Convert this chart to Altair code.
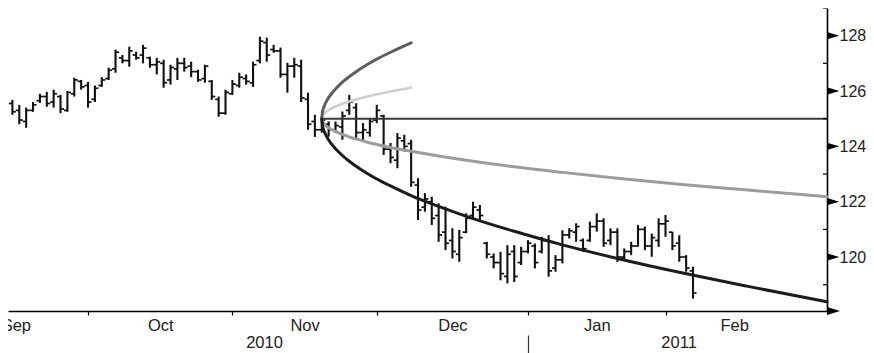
import altair as alt
import pandas as pd

# ---------------- data ----------------
# trading-day index: 0 = first trading day of October 2010
day = list(range(-11, 89))
high = [125.68, 125.50, 125.40, 125.60, 125.90, 125.97, 126.05, 125.86, 126.00, 126.48,
        126.40, 126.33, 126.20, 126.50, 126.84, 127.50, 127.30, 127.60, 127.42, 127.67,
        127.24, 127.20, 127.13, 126.95, 127.20, 127.20, 127.06, 126.77, 126.95, 126.40,
        125.80, 126.05, 126.40, 126.66, 126.60, 127.06, 127.96, 127.93, 127.67, 127.57,
        127.02, 127.20, 127.13, 125.94, 125.14, 125.10, 124.90, 124.90, 125.26, 125.86,
        125.56, 124.84, 125.02, 125.50, 125.14, 124.12, 124.48, 124.42, 124.24, 122.85,
        122.31, 122.18, 121.94, 121.82, 121.04, 120.98, 121.58, 122.00, 121.88, 120.55,
        120.13, 120.19, 120.43, 120.43, 120.37, 120.61, 120.49, 120.73, 120.79, 120.07,
        120.97, 121.04, 121.22, 120.67, 121.28, 121.58, 121.40, 121.04, 121.04, 120.31,
        120.55, 121.16, 121.10, 120.85, 121.40, 121.52, 120.91, 120.79, 120.07, 119.65]
low = [125.14, 124.80, 124.67, 125.25, 125.57, 125.43, 125.40, 125.20, 125.25, 125.80,
       126.05, 125.40, 125.60, 126.15, 126.40, 126.66, 127.00, 126.88, 127.13, 127.00,
       126.84, 126.60, 126.12, 126.23, 126.40, 126.70, 126.50, 126.33, 126.30, 125.68,
       125.07, 125.14, 125.86, 126.12, 126.23, 126.15, 127.00, 127.06, 127.38, 126.48,
       125.94, 126.48, 125.60, 124.60, 124.34, 124.50, 124.35, 124.48, 124.24, 125.14,
       124.24, 124.17, 124.35, 124.84, 123.69, 123.39, 123.21, 123.81, 122.54, 121.34,
       121.64, 121.16, 120.55, 120.25, 119.95, 119.83, 120.86, 121.40, 121.28, 119.95,
       119.59, 119.16, 119.05, 119.10, 119.71, 120.13, 119.59, 120.13, 119.29, 119.47,
       119.77, 120.67, 120.55, 120.19, 120.55, 120.92, 120.37, 120.43, 119.83, 119.89,
       120.07, 120.37, 120.25, 120.01, 120.37, 120.73, 120.25, 119.83, 119.47, 118.50]
open_ = [125.55, 125.30, 124.90, 125.30, 125.65, 125.80, 125.60, 125.80, 125.30, 125.90,
         126.35, 126.20, 125.70, 126.20, 126.45, 126.80, 127.20, 127.10, 127.30, 127.30,
         127.20, 126.95, 127.00, 126.40, 126.80, 127.00, 126.90, 126.70, 126.45, 126.35,
         125.70, 125.20, 125.90, 126.20, 126.45, 126.30, 127.10, 127.75, 127.50, 127.45,
         126.60, 126.90, 126.90, 125.70, 124.90, 124.60, 124.80, 124.60, 124.70, 125.30,
         125.40, 124.50, 124.50, 124.95, 125.10, 123.90, 123.50, 124.20, 124.10, 122.60,
         121.80, 122.00, 121.50, 120.90, 120.60, 120.10, 120.90, 121.50, 121.70, 120.50,
         120.00, 119.80, 119.30, 120.20, 119.80, 120.20, 120.40, 120.20, 120.60, 119.60,
         119.90, 120.80, 120.90, 120.60, 120.60, 121.10, 121.30, 120.60, 120.90, 120.00,
         120.20, 120.40, 121.00, 120.40, 120.60, 121.20, 120.90, 120.50, 120.00, 119.50]
close = [125.25, 124.95, 125.30, 125.50, 125.80, 125.55, 125.90, 125.35, 125.95, 126.40,
         126.15, 125.60, 126.10, 126.40, 126.75, 127.40, 127.10, 127.45, 127.20, 127.55,
         126.95, 127.05, 126.30, 126.85, 127.00, 126.85, 126.70, 126.40, 126.90, 125.80,
         125.20, 125.95, 126.25, 126.50, 126.35, 126.95, 127.80, 127.30, 127.45, 126.60,
         126.90, 126.95, 125.75, 124.80, 124.60, 124.95, 124.60, 124.75, 125.10, 125.60,
         124.50, 124.60, 124.90, 125.30, 123.90, 123.60, 124.30, 124.00, 122.70, 121.70,
         122.10, 121.40, 120.80, 120.50, 120.20, 120.70, 121.40, 121.80, 121.50, 120.10,
         119.80, 119.40, 120.10, 119.30, 120.20, 120.50, 119.80, 120.60, 119.50, 119.90,
         120.80, 120.95, 121.10, 120.30, 121.10, 121.30, 120.50, 120.90, 120.00, 120.20,
         120.40, 121.00, 120.40, 120.70, 121.20, 121.30, 120.40, 120.00, 119.60, 118.70]

# month boundaries (first trading day index of each month)
month_names = ["Sep", "Oct", "Nov", "Dec", "Jan", "Feb"]
month_start = [-21, 0, 21, 42, 64, 84]
month_end = [0, 21, 42, 64, 84, 104]
year_names = ["2010", "2011"]
year_center = [25.6, 85.9]
year_break = [64]

# projection cone (start at day 34, price 125)
cone_start = 34
cone_level = 125.0
up_day = [34, 34.1, 34.25, 34.5, 35, 35.5, 36, 37, 38, 39, 40.5, 42, 44, 47]
up_dark = [125.00, 125.24, 125.38, 125.54, 125.76, 125.93, 126.07, 126.32, 126.52,
           126.70, 126.94, 127.15, 127.40, 127.74]
up_light = [125.00, 125.10, 125.16, 125.22, 125.31, 125.38, 125.44, 125.54, 125.62,
            125.69, 125.79, 125.88, 125.98, 126.12]
low_day = [34, 34.1, 34.25, 34.5, 35, 35.5, 36, 37, 38, 39, 40.5, 42, 44, 47, 51, 56,
           62, 69, 77, 86, 96, 107.5]
low_black = [125.00, 124.76, 124.61, 124.46, 124.23, 124.06, 123.91, 123.67, 123.46,
             123.28, 123.04, 122.82, 122.57, 122.22, 121.83, 121.39, 120.93, 120.44,
             119.95, 119.45, 118.94, 118.38]
low_gray = [125.00, 124.90, 124.84, 124.77, 124.67, 124.60, 124.54, 124.43, 124.34,
            124.27, 124.16, 124.07, 123.96, 123.82, 123.65, 123.46, 123.26, 123.06,
            122.85, 122.63, 122.42, 122.18]

price_major = [120, 122, 124, 126, 128]
price_minor = [119, 121, 123, 125, 127, 129]

X_MIN, X_MAX = -11.64, 107.49
Y_MIN, Y_MAX = 118.05, 129.0

# ---------------- chart ----------------
FONT = "Liberation Sans"
FONT_SIZE = 16.5
LABEL_COLOR = "#222222"

bars = pd.DataFrame({"day": day, "high": high, "low": low, "open": open_, "close": close})
xscale = alt.Scale(domain=[X_MIN, X_MAX], nice=False, zero=False)
yscale = alt.Scale(domain=[Y_MIN, Y_MAX], nice=False, zero=False)

month_center = [(a + b) / 2 for a, b in zip(month_start, month_end)]


def lookup_expr(values, names):
    expr = "''"
    for v, n in reversed(list(zip(values, names))):
        expr = f"datum.value == {v} ? '{n}' : " + expr
    return expr


main_x_axis = alt.Axis(orient="bottom", values=month_start[1:], labels=False, ticks=True,
                       tickSize=4, tickColor="#000", tickWidth=1.2, domain=True,
                       domainColor="#000", domainWidth=1.6, grid=False, title=None)
month_axis = alt.Axis(orient="bottom", values=month_center,
                      labelExpr=lookup_expr(month_center, month_names), ticks=False,
                      domain=False, grid=False, labelPadding=6, labelFlush=False,
                      labelOverlap=False, labelBound=False, labelFont=FONT,
                      labelFontSize=FONT_SIZE, labelColor=LABEL_COLOR, title=None)
year_axis = alt.Axis(orient="bottom", values=year_center,
                     labelExpr=lookup_expr(year_center, year_names), ticks=False,
                     domain=False, grid=False, labelPadding=23, labelFlush=False,
                     labelOverlap=False, labelBound=False, labelFont=FONT,
                     labelFontSize=FONT_SIZE, labelColor=LABEL_COLOR, title=None)
year_break_axis = alt.Axis(orient="bottom", values=year_break, labels=False, ticks=True,
                           tickSize=20, tickColor="#333", tickWidth=1.2, offset=24,
                           domain=False, grid=False, title=None)
right_axis = alt.Axis(orient="right", values=price_major, ticks=False, labelPadding=12,
                      domain=True, domainColor="#000", domainWidth=1.6, grid=False,
                      labelFont=FONT, labelFontSize=16, labelColor=LABEL_COLOR,
                      title=None)

hl = alt.Chart(bars).mark_rule(color="#111", strokeWidth=2.1).encode(
    x=alt.X("day:Q", scale=xscale, axis=main_x_axis),
    y=alt.Y("low:Q", scale=yscale, axis=right_axis),
    y2="high:Q",
)
opens = alt.Chart(bars).mark_rule(color="#111", strokeWidth=1.7, xOffset=-3.5).encode(
    x=alt.X("day:Q", scale=xscale, axis=month_axis),
    x2="day:Q",
    y=alt.Y("open:Q", scale=yscale, axis=None),
)
closes = alt.Chart(bars).mark_rule(color="#111", strokeWidth=1.7, x2Offset=3.5).encode(
    x=alt.X("day:Q", scale=xscale, axis=year_axis),
    x2="day:Q",
    y=alt.Y("close:Q", scale=yscale, axis=None),
)


def curve(xs, ys, color, width):
    df = pd.DataFrame({"day": xs, "v": ys})
    return alt.Chart(df).mark_line(color=color, strokeWidth=width, interpolate="monotone",
                                   strokeCap="round").encode(
        x=alt.X("day:Q", scale=xscale, axis=None),
        y=alt.Y("v:Q", scale=yscale, axis=None),
    )


flat_df = pd.DataFrame({"day": [cone_start, X_MAX], "v": [cone_level, cone_level]})
flat = alt.Chart(flat_df).mark_line(color="#3a3a3a", strokeWidth=2).encode(
    x=alt.X("day:Q", scale=xscale, axis=year_break_axis),
    y=alt.Y("v:Q", scale=yscale, axis=None),
)

c_up_light = curve(up_day, up_light, "#cfcfcf", 2.6)
c_up_dark = curve(up_day, up_dark, "#5e5e5e", 3)
c_low_gray = curve(low_day, low_gray, "#9c9c9c", 3)
c_low_black = curve(low_day, low_black, "#1c1c1c", 3)

tri = "M0,-0.6L2,0L0,0.6Z"
major_df = pd.DataFrame({"x": [X_MAX] * len(price_major), "v": price_major})
majors = alt.Chart(major_df).mark_point(shape=tri, filled=True, size=150, color="#000",
                                        fill="#000", opacity=1, fillOpacity=1).encode(
    x=alt.X("x:Q", scale=xscale, axis=None),
    y=alt.Y("v:Q", scale=yscale, axis=None),
)
minor_df = pd.DataFrame({"x": [X_MAX] * len(price_minor), "v": price_minor})
minors = alt.Chart(minor_df).mark_rule(color="#000", strokeWidth=1.2, xOffset=-4).encode(
    x=alt.X("x:Q", scale=xscale, axis=None),
    x2="x:Q",
    y=alt.Y("v:Q", scale=yscale, axis=None),
)
arrow_df = pd.DataFrame({"x": [X_MAX], "v": [Y_MIN]})
arrow = alt.Chart(arrow_df).mark_point(shape=tri, filled=True, size=170, color="#000",
                                       fill="#000", opacity=1, fillOpacity=1).encode(
    x=alt.X("x:Q", scale=xscale, axis=None),
    y=alt.Y("v:Q", scale=yscale, axis=None),
)

chart = alt.layer(
    hl, opens, closes, flat, c_up_light, c_up_dark, c_low_gray, c_low_black,
    majors, minors, arrow,
).resolve_axis(x="independent", y="independent").properties(
    width=819, height=303,
    autosize=alt.AutoSizeParams(type="none"),
    padding={"left": 0, "top": 0, "right": 39, "bottom": 42},
    background="white",
).configure_view(stroke=None)

chart.save("out.html", embed_options={"renderer": "svg", "actions": False})
